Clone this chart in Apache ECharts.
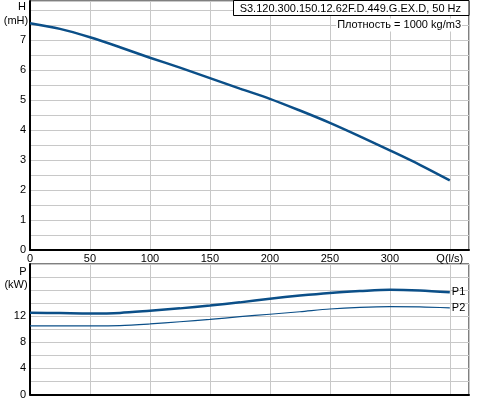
<!DOCTYPE html>
<html><head><meta charset="utf-8">
<script src="https://cdn.jsdelivr.net/npm/echarts@6/dist/echarts.min.js"></script>
<style>html,body{margin:0;padding:0;background:#fff}#c{width:500px;height:400px}</style>
</head><body><div id="c"></div>
<script>
const flow = [0,25,50,75,100,125,150,175,200,225,250,275,300,325,350];
const head = [7.56,7.37,7.09,6.76,6.41,6.08,5.73,5.38,5.04,4.65,4.24,3.79,3.32,2.84,2.32];
const powerP1 = [12.53,12.48,12.42,12.5,12.83,13.2,13.63,14.12,14.68,15.16,15.56,15.85,16.07,15.95,15.66];
const powerP2 = [10.52,10.52,10.52,10.56,10.81,11.15,11.5,11.93,12.3,12.68,13.1,13.36,13.48,13.43,13.28];
const title = 'S3.120.300.150.12.62F.D.449.G.EX.D, 50 Hz';
const density = 'Плотность = 1000 kg/m3';

const FONT = "'Liberation Sans', Arial, sans-serif";
const LINE = '#0b4f88';
const GRID = '#c8c8c8';
const pts = a => flow.map((q,i)=>[q,a[i]]);

const chart = echarts.init(document.getElementById('c'), null, {renderer:'canvas'});
const axisLineStyle = {show:true, lineStyle:{color:'#000', width:2}};
chart.setOption({
  animation:false,
  textStyle:{fontFamily:FONT},
  grid:[
    {left:30, right:31, top:1, bottom:150, show:true, borderColor:'#000', borderWidth:1},
    {left:30, right:31, top:264, bottom:1, show:true, borderColor:'#000', borderWidth:1}
  ],
  xAxis:[
    {gridIndex:0, type:'value', min:0, max:366, interval:50,
     axisLine:axisLineStyle, axisTick:{show:false},
     axisLabel:{color:'#000', fontSize:11, fontFamily:FONT, margin:3, showMaxLabel:true,
       formatter:v=> v===350 ? 'Q(l/s)' : (v%50===0 && v<350 ? String(v) : '')},
     splitLine:{show:true, lineStyle:{color:GRID, width:1}}},
    {gridIndex:1, type:'value', min:0, max:366, interval:50,
     axisLine:axisLineStyle, axisTick:{show:false}, axisLabel:{show:false},
     splitLine:{show:true, lineStyle:{color:GRID, width:1}}}
  ],
  yAxis:[
    {gridIndex:0, type:'value', min:0, max:8.3, interval:0.5,
     axisLine:axisLineStyle, axisTick:{show:false},
     axisLabel:{color:'#000', fontSize:11, fontFamily:FONT, margin:4,
       formatter:v=> (Math.abs(v-Math.round(v))<1e-6 && v<7.9) ? String(Math.round(v)) : ''},
     splitLine:{show:true, lineStyle:{color:GRID, width:1}}},
    {gridIndex:1, type:'value', min:0, max:20, interval:2,
     axisLine:axisLineStyle, axisTick:{show:false},
     axisLabel:{color:'#000', fontSize:11, fontFamily:FONT, margin:4,
       formatter:v=> (v%4===0 && v<16) ? String(v) : ''},
     splitLine:{show:true, lineStyle:{color:GRID, width:1}}}
  ],
  series:[
    {type:'line', xAxisIndex:0, yAxisIndex:0, data:pts(head), smooth:0.3, showSymbol:false,
     lineStyle:{color:LINE, width:2.5}},
    {type:'line', xAxisIndex:1, yAxisIndex:1, data:pts(powerP1), smooth:0.3, showSymbol:false,
     lineStyle:{color:LINE, width:2.5},
     endLabel:{show:true, formatter:'P1', color:'#000', fontSize:11, fontFamily:FONT, distance:2}},
    {type:'line', xAxisIndex:1, yAxisIndex:1, data:pts(powerP2), smooth:0.3, showSymbol:false,
     lineStyle:{color:LINE, width:1.2},
     endLabel:{show:true, formatter:'P2', color:'#000', fontSize:11, fontFamily:FONT, distance:2}}
  ],
  graphic:[
    {type:'rect', shape:{x:233.5, y:0.5, width:235.5, height:15}, style:{fill:'#fff', stroke:'#000', lineWidth:1}, z:100},
    {type:'text', x:461, y:8.5, style:{text:title, textAlign:'right', textVerticalAlign:'middle', fontSize:11, fontFamily:FONT, fill:'#000'}, z:101},
    {type:'text', x:462, y:25, style:{text:density, textAlign:'right', textVerticalAlign:'middle', fontSize:11, fontFamily:FONT, fill:'#000', backgroundColor:'#fff', padding:[1,1]}, z:101},
    {type:'text', x:22, y:7, style:{text:'H', textAlign:'center', textVerticalAlign:'middle', fontSize:11, fontFamily:FONT, fill:'#000'}},
    {type:'text', x:16, y:21, style:{text:'(mH)', textAlign:'center', textVerticalAlign:'middle', fontSize:11, fontFamily:FONT, fill:'#000'}},
    {type:'text', x:23, y:272, style:{text:'P', textAlign:'center', textVerticalAlign:'middle', fontSize:11, fontFamily:FONT, fill:'#000'}},
    {type:'text', x:16, y:285, style:{text:'(kW)', textAlign:'center', textVerticalAlign:'middle', fontSize:11, fontFamily:FONT, fill:'#000'}}
  ]
});
</script></body></html>
